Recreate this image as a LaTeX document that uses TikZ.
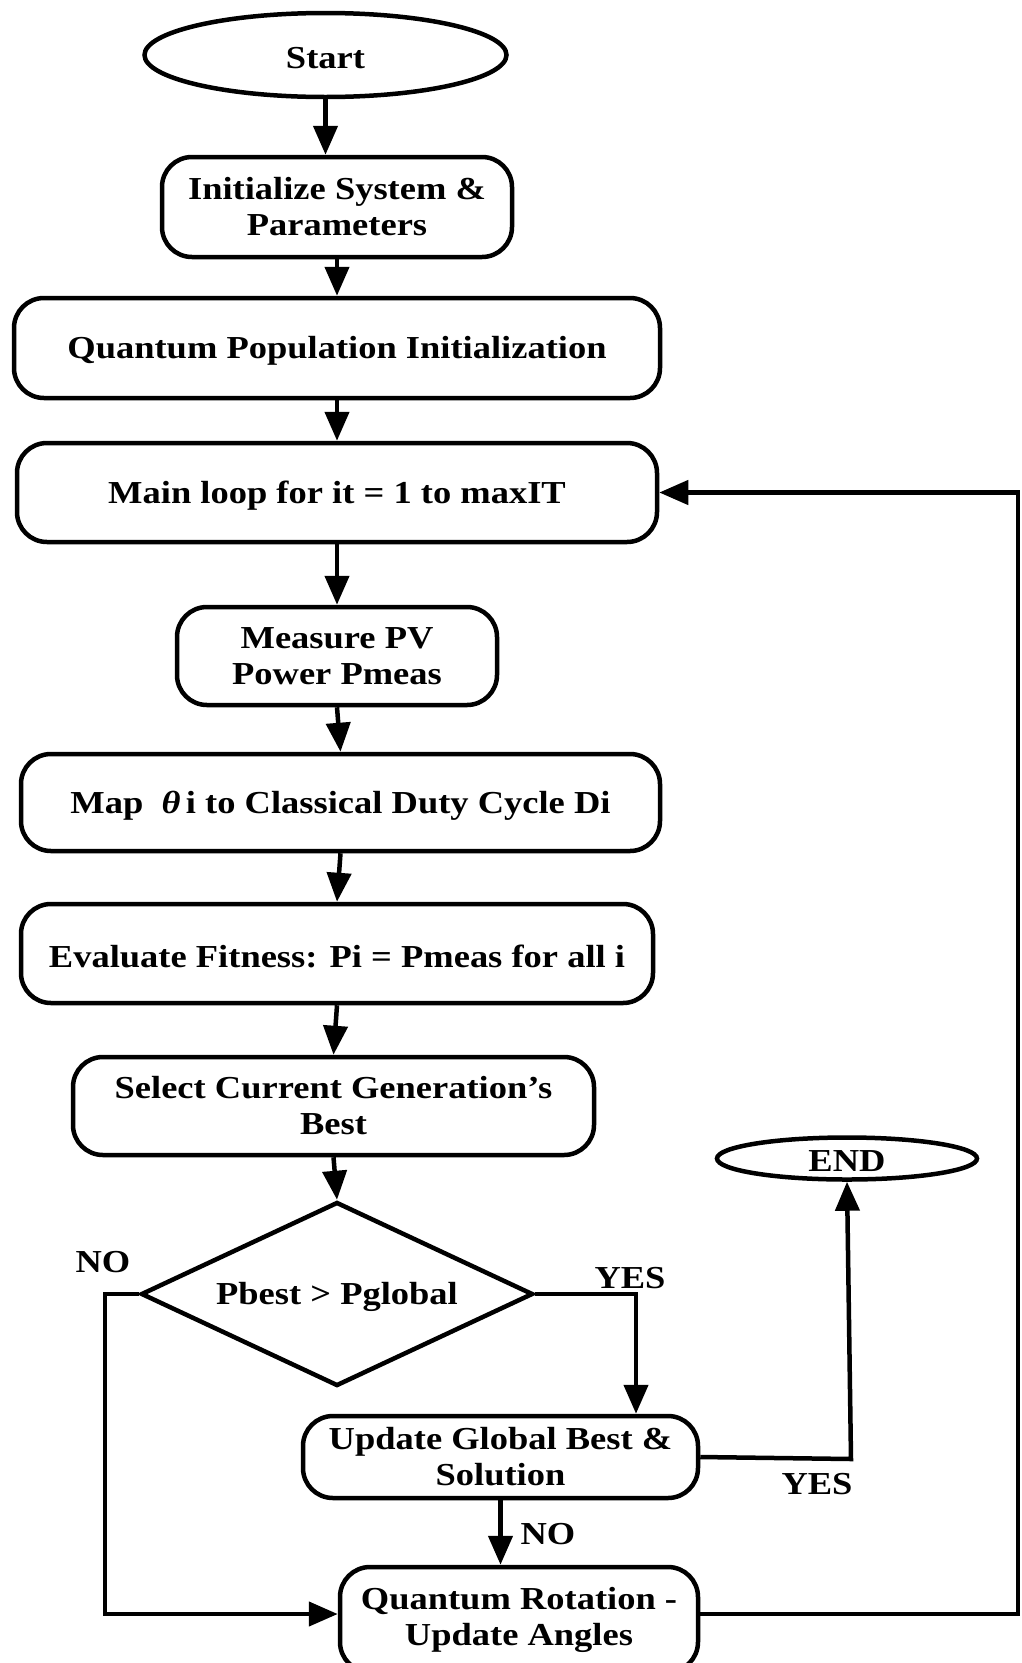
\documentclass[tikz,border=0pt]{standalone}
\usepackage{fontspec}
\setmainfont{Liberation Serif}[FakeStretch=1.14]
\usetikzlibrary{shapes.geometric,arrows.meta}
\newcommand{\lowtxt}[1]{\raisebox{-3pt}[\height][\depth]{#1}}
\begin{document}
\begin{tikzpicture}[x=1pt,y=-1pt,
  every node/.style={font=\fontsize{32}{36}\selectfont\bfseries},
  proc/.style={draw,line width=4.5pt,rounded corners=30pt,inner sep=0pt,align=center},
  term/.style={draw,ellipse,line width=4.5pt,inner sep=0pt},
  dec/.style={draw,diamond,line width=4.5pt,inner sep=0pt},
  arr/.style={line width=4.5pt,-{Triangle[length=29pt,width=24pt]}},
  lbl/.style={inner sep=0pt}]
\useasboundingbox (0,0) rectangle (1022,1663);
\node[term,minimum width=362pt,minimum height=84pt] (start) at (325.5,55) {\lowtxt{Start}};
\node[proc,minimum width=350pt,minimum height=100pt] (init) at (337,207) {Initialize System \&\\Parameters};
\node[proc,minimum width=646pt,minimum height=100pt] (qpop) at (337,348) {\lowtxt{Quantum Population Initialization}};
\node[proc,minimum width=640pt,minimum height=99pt] (main) at (337,492.5) {\lowtxt{Main loop for it = 1 to maxIT}};
\node[proc,minimum width=320pt,minimum height=98pt] (meas) at (337,656) {Measure PV\\Power Pmeas};
\node[proc,minimum width=639pt,minimum height=97pt] (map) at (340.5,802.5) {\lowtxt{Map~~{\itshape θ}\,i to Classical Duty Cycle Di}};
\node[proc,minimum width=632pt,minimum height=99pt] (eval) at (337,953.5) {\lowtxt{Evaluate Fitness: Pi = Pmeas for all i}};
\node[proc,minimum width=521pt,minimum height=98pt] (sel) at (333.5,1106) {Select Current Generation’s\\Best};
\node[dec,minimum width=392pt,minimum height=184pt] (dc) at (337,1294) {};
\node[lbl] (dct) at (dc.center) {\lowtxt{Pbest > Pglobal}};
\node[proc,minimum width=395pt,minimum height=82pt] (upd) at (500.5,1457) {Update Global Best \&\\Solution};
\node[proc,minimum width=358pt,minimum height=105pt] (qrot) at (519,1619.5) {Quantum Rotation -\\Update Angles};
\node[term,minimum width=260pt,minimum height=42pt] (end) at (847,1158.5) {\lowtxt{END}};
\coordinate (yx) at (636,0);
\coordinate (c1) at (851,1459);
\coordinate (nox) at (105,0);
\coordinate (rx) at (1018,1614);
\coordinate (qre) at (698,1614);
\draw[arr] (start.south) -- (start.south |- init.north);
\draw[arr] (init.south) -- (init.south |- qpop.north);
\draw[arr] (qpop.south) -- (qpop.south |- main.north);
\draw[arr] (main.south) -- (main.south |- meas.north);
\draw[arr] (meas.south) -- (map.north);
\draw[arr] (map.south) -- (eval.north);
\draw[arr] (eval.south) -- (sel.north);
\draw[arr] (sel.south) -- (dc.north);
\draw[arr] (dc.east) -| (upd.north -| yx);
\draw[arr] (upd.east) -- (c1) -- (end.south);
\draw[arr] (upd.south) -- (upd.south |- qrot.north);
\draw[arr] (dc.west) -| (nox |- qre) -- (qre -| qrot.west);
\draw[arr] (qre) -- (rx) |- (main.east);
\node[lbl] (no1) at (103,1262) {NO};
\node[lbl] (yes1) at (630,1278) {YES};
\node[lbl] (yes2) at (817,1484) {YES};
\node[lbl] (no2) at (548,1534) {NO};
\end{tikzpicture}
\end{document}
